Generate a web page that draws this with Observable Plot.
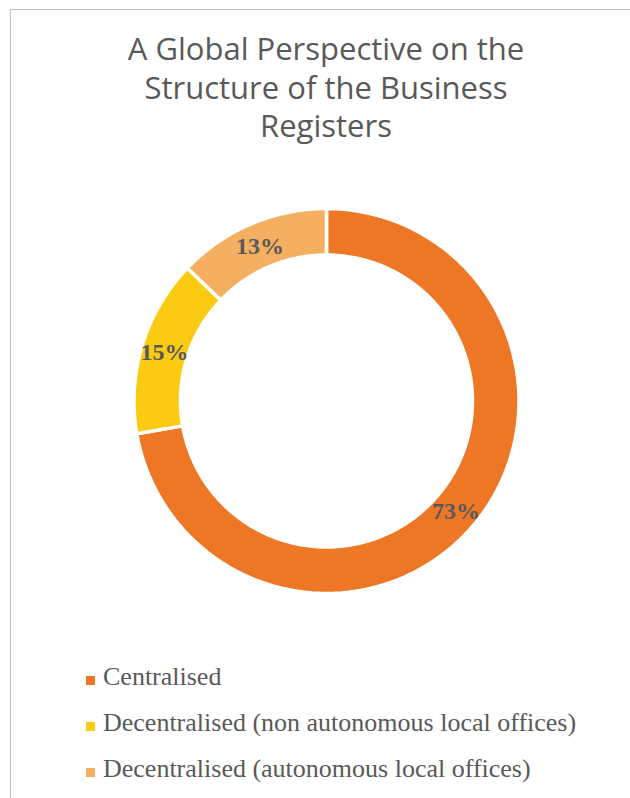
<!DOCTYPE html>
<html>
<head>
<meta charset="utf-8">
<script src="https://cdn.jsdelivr.net/npm/d3@7"></script>
<script src="https://cdn.jsdelivr.net/npm/@observablehq/plot@0.6"></script>
<style>
  html, body { margin: 0; padding: 0; background: #fff; width: 630px; height: 798px; overflow: hidden; }
  #frame { position: absolute; left: 10px; top: 9px; width: 700px; height: 900px;
           border-left: 1.5px solid #bdbdbd; border-top: 1.5px solid #bdbdbd; }
  #title { position: absolute; left: 0; top: 29px; width: 652px; text-align: center;
           font-family: "Open Sans", Lato, sans-serif; font-size: 31px; line-height: 38.5px; color: #595959; }
  #chart { position: absolute; left: 0; top: 150px; }
  #legend { position: absolute; left: 86px; top: 654px; font-family: "Liberation Serif", serif;
            font-size: 26px; line-height: 46px; color: #595959; }
  .row { position: relative; height: 46px; white-space: nowrap; }
  .sw { position: absolute; left: 0; top: 22px; width: 9px; height: 9px; }
  .lab { position: absolute; left: 17px; top: 0; }
</style>
</head>
<body>
<div id="frame"></div>
<div id="title">A Global Perspective on the<br>Structure of the Business<br>Registers</div>
<div id="chart"></div>
<div id="legend"></div>
<script>
// Data
const categories = ["Centralised", "Decentralised (non autonomous local offices)", "Decentralised (autonomous local offices)"];
const values = [73, 15, 13];
const labels = ["73%", "15%", "13%"];
const colors = ["#EE7726", "#FACB12", "#F4AF60"];

// Geometry (relative units; outer radius = 1)
const W = 630, H = 500;
const pxPerUnit = 192.5;
const cx = 326, cy = 250.5;
const innerR = 146 / 192.5;

const pie = d3.pie().sort(null).value(d => d.value);
const arcs = pie(categories.map((c, i) => ({cat: c, value: values[i], label: labels[i]})));

// Build slice outlines from the pie angles (angle measured clockwise from 12 o'clock)
const pts = [];
arcs.forEach(a => {
  const n = 120;
  const ring = [];
  for (let k = 0; k <= n; k++) {
    const t = a.startAngle + (a.endAngle - a.startAngle) * k / n;
    ring.push({cat: a.data.cat, x: Math.sin(t), y: Math.cos(t)});
  }
  for (let k = n; k >= 0; k--) {
    const t = a.startAngle + (a.endAngle - a.startAngle) * k / n;
    ring.push({cat: a.data.cat, x: innerR * Math.sin(t), y: innerR * Math.cos(t)});
  }
  ring.push(ring[0]);
  pts.push(...ring);
});

const midR = (1 + innerR) / 2;
const labelData = arcs.map(a => {
  const t = (a.startAngle + a.endAngle) / 2;
  return {label: a.data.label, x: midR * Math.sin(t), y: midR * Math.cos(t)};
});

const plot = Plot.plot({
  width: W,
  height: H,
  margin: 0,
  x: {domain: [-cx / pxPerUnit, (W - cx) / pxPerUnit], range: [0, W], axis: null},
  y: {domain: [-(H - cy) / pxPerUnit, cy / pxPerUnit], range: [H, 0], axis: null},
  color: {domain: categories, range: colors},
  marks: [
    Plot.line(pts, {x: "x", y: "y", z: "cat", fill: "cat", stroke: "white", strokeWidth: 3.5, curve: "linear"}),
    Plot.text(labelData, {x: "x", y: "y", text: "label", fill: "#595959", fontSize: 24, fontWeight: "bold",
      fontFamily: "Liberation Serif, serif", dy: 1})
  ]
});
document.getElementById("chart").appendChild(plot);

// Legend
const leg = document.getElementById("legend");
categories.forEach((c, i) => {
  const row = document.createElement("div");
  row.className = "row";
  const sw = document.createElement("span");
  sw.className = "sw";
  sw.style.background = colors[i];
  const lab = document.createElement("span");
  lab.className = "lab";
  lab.textContent = c;
  row.appendChild(sw);
  row.appendChild(lab);
  leg.appendChild(row);
});
</script>
</body>
</html>
